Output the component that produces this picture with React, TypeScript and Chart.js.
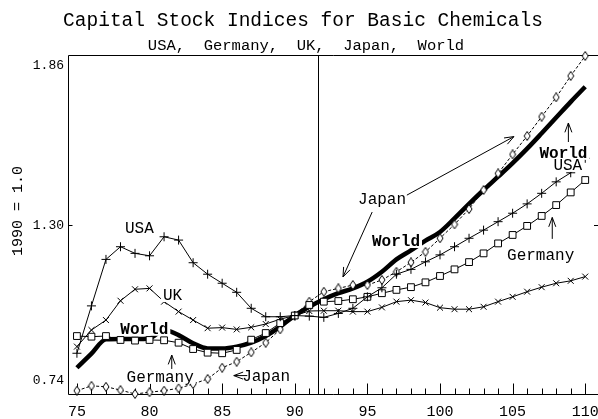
import React, { useEffect, useRef } from "react";
import { Chart, registerables } from "chart.js";

Chart.register(...registerables);

// ---------- data (index 1990 = 1.0) ----------
const years = [75, 76, 77, 78, 79, 80, 81, 82, 83, 84, 85, 86, 87, 88, 89, 90, 91, 92, 93, 94, 95, 96, 97, 98, 99, 100, 101, 102, 103, 104, 105, 106, 107, 108, 109, 110];
const usa = [0.875, 1.032, 1.186, 1.228, 1.206, 1.198, 1.261, 1.25, 1.175, 1.137, 1.107, 1.077, 1.024, 0.996, 0.996, 1.0, 0.998, 0.994, 1.007, 1.024, 1.062, 1.092, 1.137, 1.153, 1.178, 1.201, 1.228, 1.256, 1.283, 1.311, 1.339, 1.37, 1.405, 1.443, 1.473, 1.521];
const germany = [0.932, 0.93, 0.932, 0.919, 0.917, 0.919, 0.918, 0.91, 0.889, 0.877, 0.875, 0.886, 0.92, 0.942, 0.975, 1.0, 1.035, 1.046, 1.048, 1.054, 1.062, 1.074, 1.085, 1.094, 1.11, 1.131, 1.153, 1.177, 1.206, 1.239, 1.267, 1.297, 1.33, 1.366, 1.408, 1.449];
const uk = [0.897, 0.952, 0.985, 1.049, 1.087, 1.09, 1.046, 1.013, 0.985, 0.958, 0.96, 0.954, 0.961, 0.972, 0.988, 1.0, 1.015, 1.016, 1.016, 1.013, 1.013, 1.027, 1.046, 1.051, 1.043, 1.026, 1.021, 1.021, 1.029, 1.046, 1.062, 1.079, 1.094, 1.107, 1.115, 1.129];
const japan = [0.751, 0.767, 0.764, 0.753, 0.74, 0.746, 0.751, 0.759, 0.773, 0.79, 0.827, 0.847, 0.878, 0.91, 0.954, 1.0, 1.046, 1.079, 1.09, 1.101, 1.101, 1.118, 1.145, 1.176, 1.211, 1.256, 1.302, 1.353, 1.416, 1.471, 1.534, 1.595, 1.659, 1.723, 1.794, 1.86];
const world = [0.827, 0.874, 0.921, 0.922, 0.922, 0.925, 0.952, 0.935, 0.908, 0.891, 0.891, 0.897, 0.91, 0.932, 0.963, 1.0, 1.029, 1.054, 1.074, 1.09, 1.112, 1.145, 1.186, 1.216, 1.248, 1.277, 1.322, 1.37, 1.416, 1.46, 1.505, 1.553, 1.604, 1.656, 1.708, 1.758];

const xTickValues = [75, 80, 85, 90, 95, 100, 105, 110];
const xTickLabels = ["75", "80", "85", "90", "95", "100", "105", "110"];
const yTickValues = [0.74, 1.3, 1.86];
const yTickLabels = ["0.74", "1.30", "1.86"];
const forecastStart = 91.6;

const TITLE = "Capital Stock Indices for Basic Chemicals";
const SUBTITLE = "USA,  Germany,  UK,  Japan,  World";
const Y_TITLE = "1990 = 1.0";

// in-plot labels (data coordinates)
const notes = [
  { text: "USA", x: 79.3, y: 1.29, bold: false },
  { text: "UK", x: 81.58, y: 1.068, bold: false },
  { text: "World", x: 79.64, y: 0.956, bold: true },
  { text: "Germany", x: 80.73, y: 0.797, bold: false },
  { text: "Japan", x: 88.03, y: 0.8, bold: false },
  { text: "Japan", x: 96.01, y: 1.386, bold: false },
  { text: "World", x: 96.97, y: 1.247, bold: true },
  { text: "World", x: 108.5, y: 1.539, bold: true },
  { text: "USA", x: 108.8, y: 1.499, bold: false },
  { text: "Germany", x: 106.93, y: 1.201, bold: false },
];
// arrows: from -> to (head at "to")
const arrows = [
  { x1: 81.53, y1: 0.823, x2: 81.53, y2: 0.869 },
  { x1: 86.73, y1: 0.801, x2: 85.8, y2: 0.801 },
  { x1: 95.33, y1: 1.343, x2: 93.32, y2: 1.128 },
  { x1: 97.72, y1: 1.399, x2: 105.09, y2: 1.593 },
  { x1: 108.84, y1: 1.575, x2: 108.84, y2: 1.638 },
  { x1: 107.73, y1: 1.254, x2: 107.73, y2: 1.325 },
];

const MONO = '"Liberation Mono", "Courier New", monospace';
const font = (size: number, bold = false) => `${bold ? "bold " : ""}${size}px ${MONO}`;

function makeDiamond() {
  const c = document.createElement("canvas");
  c.width = 8;
  c.height = 10;
  const g = c.getContext("2d")!;
  g.fillStyle = "#fff";
  g.strokeStyle = "#000";
  g.lineWidth = 1;
  g.beginPath();
  g.moveTo(4, 0.5);
  g.lineTo(7, 5);
  g.lineTo(4, 9.5);
  g.lineTo(1, 5);
  g.closePath();
  g.fill();
  g.stroke();
  return c;
}

function drawArrow(ctx: CanvasRenderingContext2D, x1: number, y1: number, x2: number, y2: number) {
  const ang = Math.atan2(y2 - y1, x2 - x1);
  const len = 10;
  const spread = 0.36;
  ctx.beginPath();
  ctx.moveTo(x1, y1);
  ctx.lineTo(x2, y2);
  ctx.moveTo(x2 - len * Math.cos(ang - spread), y2 - len * Math.sin(ang - spread));
  ctx.lineTo(x2, y2);
  ctx.lineTo(x2 - len * Math.cos(ang + spread), y2 - len * Math.sin(ang + spread));
  ctx.stroke();
}

const decor = {
  id: "decor",
  beforeDatasetsDraw(chart: any) {
    const { ctx, chartArea: a, scales } = chart;
    const xs = scales.x;
    const ys = scales.y;
    ctx.save();
    ctx.strokeStyle = "#000";
    ctx.lineWidth = 1;
    const top = Math.round(a.top) - 0.5;
    const bottom = Math.round(a.bottom) + 0.5;
    const left = Math.round(a.left) - 0.5;
    ctx.beginPath();
    ctx.moveTo(left, top);
    ctx.lineTo(chart.width, top);
    ctx.moveTo(left, top);
    ctx.lineTo(left, bottom);
    ctx.lineTo(chart.width, bottom);
    ctx.stroke();
    // forecast divider
    const vx = Math.round(xs.getPixelForValue(forecastStart)) + 0.5;
    ctx.beginPath();
    ctx.moveTo(vx, top);
    ctx.lineTo(vx, bottom);
    ctx.stroke();
    // inward year ticks
    ctx.beginPath();
    for (const yr of years) {
      const px = Math.round(xs.getPixelForValue(yr)) + 0.5;
      const len = yr % 5 === 0 ? 11 : 6;
      ctx.moveTo(px, bottom);
      ctx.lineTo(px, bottom - len);
    }
    // y tick at middle value
    const py = Math.round(ys.getPixelForValue(yTickValues[1])) + 0.5;
    ctx.moveTo(left, py);
    ctx.lineTo(left + 4, py);
    ctx.moveTo(chart.width, py);
    ctx.lineTo(chart.width - 4, py);
    ctx.stroke();
    ctx.restore();
  },
  afterDatasetsDraw(chart: any) {
    const { ctx, scales } = chart;
    const xs = scales.x;
    const ys = scales.y;
    ctx.save();
    ctx.textAlign = "center";
    ctx.textBaseline = "middle";
    for (const n of notes) {
      const px = xs.getPixelForValue(n.x);
      const py = ys.getPixelForValue(n.y);
      ctx.font = font(16, n.bold);
      const w = ctx.measureText(n.text).width;
      ctx.fillStyle = "#fff";
      ctx.fillRect(px - w / 2 - 2, py - 7, w + 4, 14);
      ctx.fillStyle = "#000";
      ctx.fillText(n.text, px, py + 1);
    }
    ctx.strokeStyle = "#000";
    ctx.lineWidth = 1;
    for (const ar of arrows) {
      drawArrow(ctx, xs.getPixelForValue(ar.x1), ys.getPixelForValue(ar.y1), xs.getPixelForValue(ar.x2), ys.getPixelForValue(ar.y2));
    }
    ctx.restore();
  },
  afterDraw(chart: any) {
    const { ctx, scales } = chart;
    const ys = scales.y;
    ctx.save();
    ctx.fillStyle = "#000";
    ctx.textBaseline = "middle";
    ctx.textAlign = "center";
    ctx.font = font(19.5);
    ctx.fillText(TITLE, 303, 21);
    ctx.font = font(15.5);
    ctx.fillText(SUBTITLE, 306, 46);
    // y tick labels (end labels pulled inside the frame)
    ctx.font = font(13);
    ctx.textAlign = "right";
    const offs = [-13, 1, 10];
    yTickValues.forEach((v, i) => {
      ctx.fillText(yTickLabels[i], 64, ys.getPixelForValue(v) + offs[i]);
    });
    // y title
    ctx.translate(18, 211);
    ctx.rotate(-Math.PI / 2);
    ctx.textAlign = "center";
    ctx.font = font(15);
    ctx.fillText(Y_TITLE, 0, 0);
    ctx.restore();
  },
};

export default function App() {
  const ref = useRef<HTMLCanvasElement | null>(null);
  useEffect(() => {
    if (!ref.current) return;
    const diamond = makeDiamond();
    const pts = (arr: number[]) => years.map((yr, i) => ({ x: yr, y: arr[i] }));
    const thin = {
      borderColor: "#000",
      borderWidth: 1,
      pointBorderColor: "#000",
      pointBackgroundColor: "#fff",
      pointBorderWidth: 1,
      tension: 0,
      clip: false as const,
      fill: false,
    };
    const chart = new Chart(ref.current, {
      type: "line",
      data: {
        datasets: [
          { ...thin, label: "USA", data: pts(usa), pointStyle: "cross", pointRadius: 4.5 },
          { ...thin, label: "Germany", data: pts(germany), pointStyle: "rect", pointRadius: 4.8 },
          { ...thin, label: "UK", data: pts(uk), pointStyle: "crossRot", pointRadius: 4.2 },
          { ...thin, label: "Japan", data: pts(japan), pointStyle: diamond as any, pointRadius: 4, borderDash: [3, 2] },
          {
            label: "World",
            data: pts(world),
            borderColor: "#000",
            borderWidth: 4.5,
            pointRadius: 0,
            cubicInterpolationMode: "monotone",
            clip: false as const,
            fill: false,
          },
        ],
      },
      options: {
        animation: false,
        responsive: false,
        devicePixelRatio: 1,
        events: [],
        layout: { padding: { top: 56, right: 1, bottom: 0, left: 0 } },
        plugins: { legend: { display: false }, tooltip: { enabled: false }, title: { display: false } },
        scales: {
          x: {
            type: "linear",
            min: 74.454,
            max: 110.48,
            grid: { display: false },
            border: { display: false },
            afterBuildTicks: (s: any) => {
              s.ticks = xTickValues.map((v) => ({ value: v }));
            },
            afterFit: (s: any) => {
              s.height = 25;
              s.paddingLeft = 0;
              s.paddingRight = 0;
            },
            ticks: {
              autoSkip: false,
              maxRotation: 0,
              padding: 1,
              color: "#000",
              font: { family: MONO, size: 15 },
              callback: (v: any) => xTickLabels[xTickValues.indexOf(Number(v))] ?? "",
            },
          },
          y: {
            type: "linear",
            min: yTickValues[0],
            max: yTickValues[2],
            grid: { display: false },
            border: { display: false },
            ticks: { display: false },
            afterFit: (s: any) => {
              s.width = 69;
              s.paddingTop = 0;
              s.paddingBottom = 0;
            },
          },
        },
      },
      plugins: [decor],
    });
    return () => chart.destroy();
  }, []);
  return (
    <div style={{ position: "fixed", left: 0, top: 0, width: 598, height: 419, background: "#fff" }}>
      <canvas ref={ref} width={598} height={419} style={{ display: "block" }} />
    </div>
  );
}
